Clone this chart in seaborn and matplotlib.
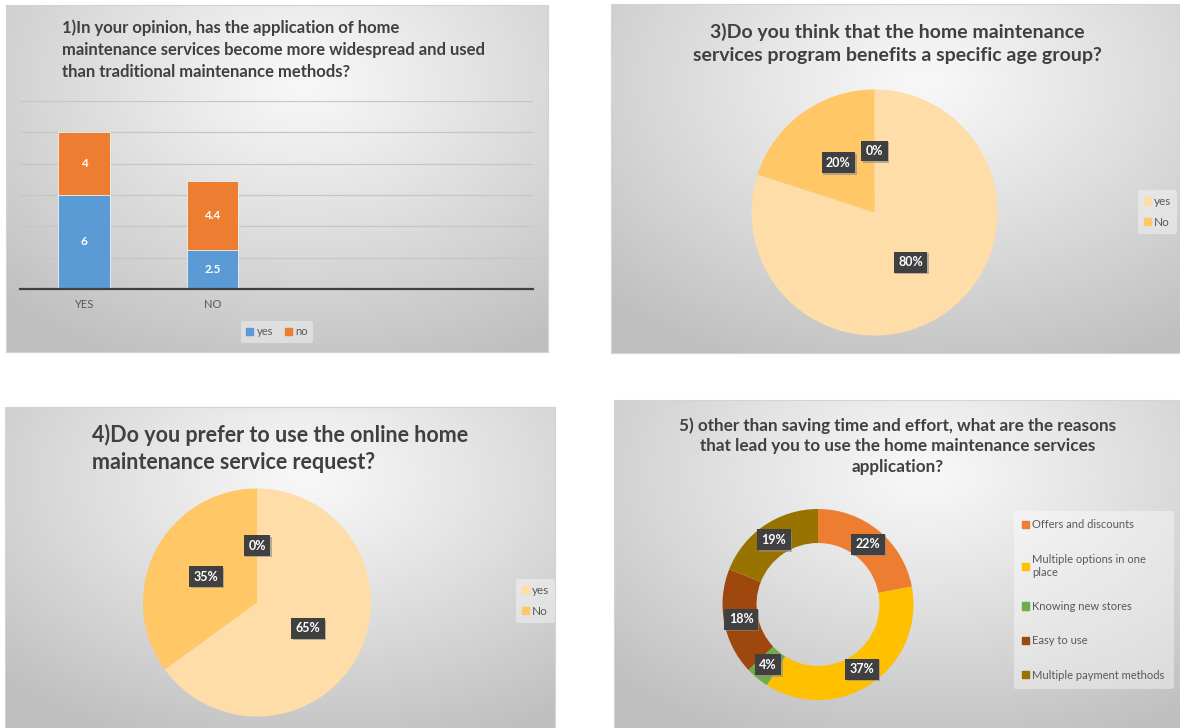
import numpy as np
import pandas as pd
import matplotlib
matplotlib.use('Agg')
import matplotlib.pyplot as plt
import matplotlib.transforms as mtrans
from matplotlib.colors import LinearSegmentedColormap
from matplotlib.patches import Patch
import seaborn as sns

# ---- data ----
q1_categories = ['YES', 'NO']
q1_yes = [6, 2.5]
q1_no = [4, 4.4]

q3_labels = ['yes', 'No', '']
q3_values = [80, 20, 0]

q4_labels = ['yes', 'No', '']
q4_values = [65, 35, 0]

q5_labels = ['Offers and discounts', 'Multiple options in one\nplace',
             'Knowing new stores', 'Easy to use', 'Multiple payment methods']
q5_values = [22, 37, 4, 18, 19]

title1 = ('1)In your opinion, has the application of home\n'
          'maintenance services become more widespread and used\n'
          'than traditional maintenance methods?')
title3 = ('3)Do you think that the home maintenance\n'
          'services program benefits a specific age group?')
title4 = ('4)Do you prefer to use the online home\n'
          'maintenance service request?')
title5 = ('5) other than saving time and effort, what are the reasons\n'
          'that lead you to use the home maintenance services\n'
          'application?')

# colours (Office style)
blue, orange = '#5B9BD5', '#ED7D31'
pie_colors = sns.color_palette(['#FEDDA8', '#FFC766', '#FFC766'])
donut_colors = sns.color_palette(['#ED7D31', '#FFC000', '#70AD47', '#9E480E', '#997300'])
text_dark = '#404040'
text_mid = '#595959'

sns.set_theme(style='white')
plt.rcParams['font.family'] = ['Lato', 'DejaVu Sans']

W, H = 1180, 728
fig = plt.figure(figsize=(W / 100, H / 100), dpi=100)
fig.patch.set_facecolor('white')


def fx(x):
    return x / W


def fy(y):
    return 1 - y / H


def px_axes(x0, y0, x1, y1):
    return fig.add_axes([x0 / W, 1 - y1 / H, (x1 - x0) / W, (y1 - y0) / H])


bg_cmap = LinearSegmentedColormap.from_list('bg', ['#f8f8f8', '#bfbfbf'])


def panel(x0, y0, x1, y1):
    ax = px_axes(x0, y0, x1, y1)
    yy, xx = np.mgrid[0:1:200j, 0:1:300j]
    d = np.hypot(xx - 0.55, (yy - 0.22) * 0.9)
    ax.imshow(np.clip(d / 0.8, 0, 1) ** 1.1, cmap=bg_cmap, vmin=0, vmax=1,
              aspect='auto', extent=(0, 1, 0, 1), origin='upper')
    ax.set_xticks([])
    ax.set_yticks([])
    for s in ax.spines.values():
        s.set_color('#d4d4d4')
        s.set_linewidth(0.8)
    return ax


def pct_label(ax, x, y, txt):
    shadow = mtrans.offset_copy(ax.transData, fig=fig, x=1.5, y=-1.5, units='dots')
    ax.text(x, y, txt, ha='center', va='center', fontsize=9, fontweight='bold',
            color='#8a8a8a', transform=shadow,
            bbox=dict(boxstyle='square,pad=0.35', fc='#8a8a8a', ec='none', alpha=0.6))
    ax.text(x, y, txt, ha='center', va='center', fontsize=9, fontweight='bold',
            color='white', bbox=dict(boxstyle='square,pad=0.35', fc='#404040', ec='none'))


def draw_pie(ax, values, colors, width=None, pctdist=0.5):
    wp = dict(linewidth=0)
    if width:
        wp['width'] = width
    wedges, _ = ax.pie(values, colors=colors, startangle=90, counterclock=False,
                       radius=1, wedgeprops=wp)
    ax.set_xlim(-1, 1)
    ax.set_ylim(-1, 1)
    ax.set_aspect('equal')
    ax.patch.set_alpha(0)
    total = sum(values)
    for w, v in zip(wedges, values):
        ang = np.deg2rad((w.theta1 + w.theta2) / 2)
        pct_label(ax, pctdist * np.cos(ang), pctdist * np.sin(ang), f'{v / total:.0%}')


def small_legend(handles, cx, cy, size=8, **kw):
    leg = fig.legend(handles=handles, loc='center', bbox_to_anchor=(fx(cx), fy(cy)),
                     fontsize=size, handlelength=0.6, handleheight=0.6,
                     handletextpad=0.3, frameon=True, facecolor='white',
                     edgecolor='none', framealpha=0.4, borderpad=0.5, **kw)
    for t in leg.get_texts():
        t.set_color(text_mid)
    return leg


# ---- panel 1: stacked bars ----
panel(6, 5, 548, 352)
fig.text(fx(62), fy(50), title1, ha='left', va='center', fontsize=12,
         fontweight='bold', color=text_dark, linespacing=1.45)

df1 = pd.DataFrame({'answer': q1_categories, 'yes': q1_yes, 'no': q1_no})
df1['total'] = df1['yes'] + df1['no']
ax1 = px_axes(20, 101, 533, 289)
ax1.patch.set_alpha(0)
sns.barplot(data=df1, x='answer', y='total', color=orange, width=0.4,
            saturation=1, ax=ax1, edgecolor='#f2f2f2', linewidth=0.6)
sns.barplot(data=df1, x='answer', y='yes', color=blue, width=0.4,
            saturation=1, ax=ax1, edgecolor='#f2f2f2', linewidth=0.6)
ax1.set_xlim(-0.5, 3.5)
ax1.set_ylim(0, 12)
ax1.set_yticks(range(0, 13, 2))
ax1.set_yticklabels([])
ax1.yaxis.grid(True, color='#c6c6c6', linewidth=0.9)
ax1.set_axisbelow(True)
ax1.set_xlabel('')
ax1.set_ylabel('')
ax1.tick_params(axis='x', length=0, pad=7, labelsize=8, labelcolor=text_mid)
ax1.tick_params(axis='y', length=0)
for s in ['top', 'left', 'right']:
    ax1.spines[s].set_visible(False)
ax1.spines['bottom'].set_color(text_dark)
ax1.spines['bottom'].set_linewidth(1.6)
for bar, y, n in zip(ax1.containers[1], df1['yes'], df1['no']):
    xc = bar.get_x() + bar.get_width() / 2
    ax1.text(xc, y / 2, f'{y:g}', ha='center', va='center', color='white',
             fontsize=8.5, fontweight='bold')
    ax1.text(xc, y + n / 2, f'{n:g}', ha='center', va='center', color='white',
             fontsize=8.5, fontweight='bold')
small_legend([Patch(color=blue, label='yes'), Patch(color=orange, label='no')],
             277, 332, size=8, ncol=2, columnspacing=1.1)

# ---- panel 2: pie (question 3) ----
panel(611, 4, 1180, 353)
fig.text(fx(897), fy(43.5), title3, ha='center', va='center', fontsize=14,
         fontweight='bold', color=text_dark, linespacing=1.4)
ax3 = px_axes(874.5 - 123, 212.5 - 123, 874.5 + 123, 212.5 + 123)
draw_pie(ax3, q3_values, pie_colors)
small_legend([Patch(color=pie_colors[i], label=q3_labels[i]) for i in range(2)],
             1157.5, 212, size=8.5, labelspacing=0.8)

# ---- panel 3: pie (question 4) ----
panel(5, 407, 555, 728)
fig.text(fx(92), fy(448.5), title4, ha='left', va='center', fontsize=15.5,
         fontweight='bold', color=text_dark, linespacing=1.4)
ax4 = px_axes(257 - 114, 602.5 - 114, 257 + 114, 602.5 + 114)
draw_pie(ax4, q4_values, pie_colors)
small_legend([Patch(color=pie_colors[i], label=q4_labels[i]) for i in range(2)],
             535.5, 601, size=8.5, labelspacing=0.8)

# ---- panel 4: donut (question 5) ----
panel(614, 400, 1180, 728)
fig.text(fx(898), fy(446), title5, ha='center', va='center', fontsize=12.3,
         fontweight='bold', color=text_dark, linespacing=1.35)
ax5 = px_axes(818 - 95.5, 604.5 - 95.5, 818 + 95.5, 604.5 + 95.5)
draw_pie(ax5, q5_values, donut_colors, width=0.356, pctdist=0.82)
leg5 = fig.legend(handles=[Patch(color=c, label=l) for c, l in zip(donut_colors, q5_labels)],
                  loc='upper left', bbox_to_anchor=(fx(1008), fy(505)),
                  fontsize=8, handlelength=0.6, handleheight=0.6, handletextpad=0.3,
                  labelspacing=2.1, frameon=True, facecolor='white', edgecolor='none',
                  framealpha=0.4, borderpad=0.8)
for t in leg5.get_texts():
    t.set_color(text_mid)

fig.savefig('out.png', dpi=100)
